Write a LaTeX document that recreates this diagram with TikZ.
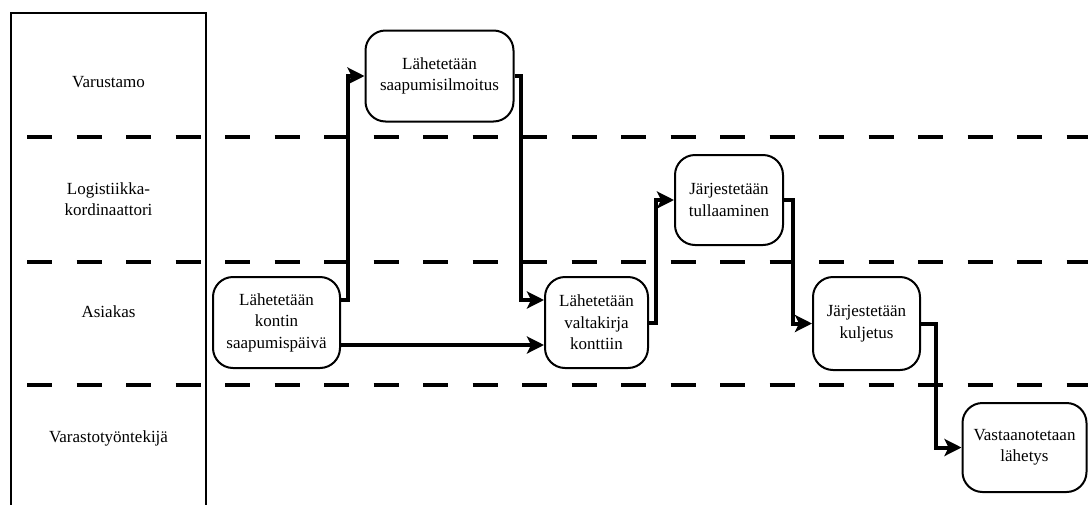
\documentclass[tikz,border=0pt]{standalone}
\usepackage{fontspec}
\setmainfont{Liberation Serif}[Ligatures=TeX]
\usetikzlibrary{arrows.meta}
\begin{document}
\begin{tikzpicture}[x=1pt,y=-1pt,
  lane/.style={line width=3.5pt,dash pattern=on 25pt off 24.5pt},
  frame/.style={line width=2pt},
  lanelabel/.style={align=center,font=\rmfamily\fontsize{17}{21.5}\selectfont},
  task/.style={draw,line width=2pt,rounded corners=20pt,align=center,
    font=\rmfamily\fontsize{17}{21.5}\selectfont,inner sep=0pt,fill=white},
  flow/.style={line width=4pt,-{Stealth[length=17pt,width=17pt,inset=4pt]}}]
\useasboundingbox (0,0) rectangle (1088,504);
% swimlane separators
\draw[lane] (27,137) -- (1100,137);
\draw[lane] (27,262) -- (1100,262);
\draw[lane] (27,385) -- (1100,385);
% header column
\draw[frame] (11,510) -- (11,13) -- (206,13) -- (206,510);
\node[lanelabel] (l1) at (108.5,82) {Varustamo};
\node[lanelabel] (l2) at (108.5,199) {Logistiikka-\\kordinaattori};
\node[lanelabel] (l3) at (108.5,312) {Asiakas};
\node[lanelabel] (l4) at (108.5,438) {Varastotyöntekijä};
% tasks
\node[task,minimum width=148pt,minimum height=91pt] (n1) at (439.5,76) {Lähetetään\\saapumisilmoitus};
\node[task,minimum width=127pt,minimum height=91pt] (n2) at (276.5,322.5) {Lähetetään\\kontin\\saapumispäivä};
\node[task,minimum width=103pt,minimum height=91pt] (n3) at (596.5,322.5) {Lähetetään\\valtakirja\\konttiin};
\node[task,minimum width=108pt,minimum height=90pt] (n4) at (729,200) {Järjestetään\\tullaaminen};
\node[task,minimum width=107pt,minimum height=93pt] (n5) at (866.5,323.5) {Järjestetään\\kuljetus};
\node[task,minimum width=124pt,minimum height=89pt] (n6) at (1024.5,447.5) {Vastaanotetaan\\lähetys};
% flows
\draw[flow] ([yshift=22.5pt]n2.east) -- ++(7,0) |- (n1.west);
\draw[flow] (n1.east) -- ++(6,0) |- ([yshift=22.5pt]n3.west);
\draw[flow] ([yshift=-22.5pt]n2.east) -- ([yshift=-22.5pt]n3.west);
\draw[flow] (n3.east) -- ++(7,0) |- (n4.west);
\draw[flow] (n4.east) -- ++(9,0) |- (n5.west);
\draw[flow] (n5.east) -- ++(15,0) |- (n6.west);
\end{tikzpicture}
\end{document}
